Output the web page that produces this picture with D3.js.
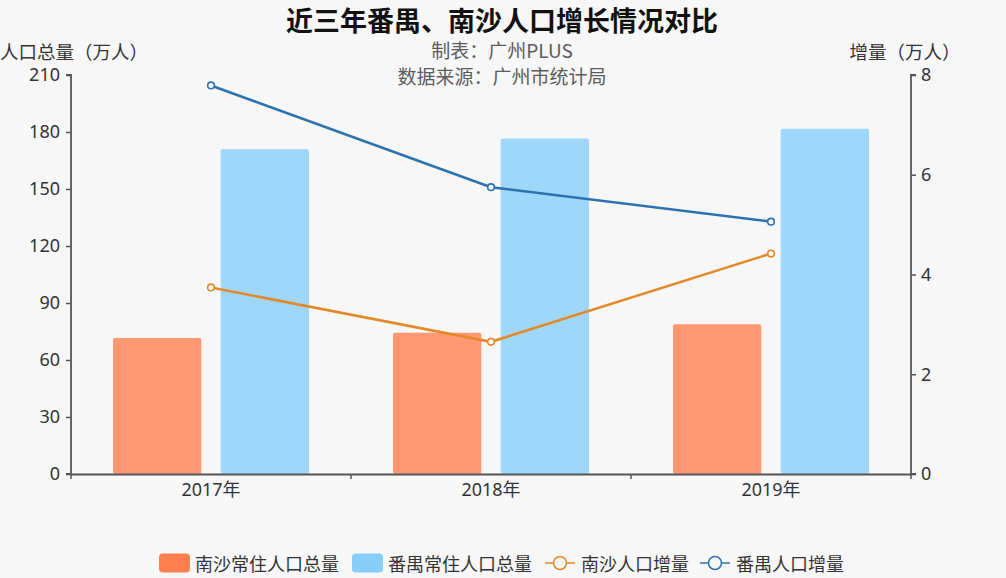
<!DOCTYPE html>
<html><head><meta charset="utf-8">
<script src="https://cdn.jsdelivr.net/npm/d3@7/dist/d3.min.js"></script>
<style>
html,body{margin:0;padding:0;background:#f7f7f7;}
svg{display:block;font-family:"Noto Sans CJK SC","Noto Sans",sans-serif;}
</style></head>
<body><svg id="c" width="1006" height="578"></svg>
<script>
const categories = ["2017年", "2018年", "2019年"];
const nanshaTotal = [71.6, 74.3, 78.8];
const panyuTotal = [170.9, 176.6, 181.7];
const nanshaInc = [3.74, 2.65, 4.42];
const panyuInc = [7.79, 5.75, 5.06];
const leftTicks = [0, 30, 60, 90, 120, 150, 180, 210];
const rightTicks = [0, 2, 4, 6, 8];
const seriesNames = ["南沙常住人口总量", "番禺常住人口总量", "南沙人口增量", "番禺人口增量"];

const svg = d3.select("#c");
const L = 71, R = 911, T = 75, B = 474;
const C = {barO:"#ff7f50", barB:"#87cefa", lineO:"#e3892a", lineB:"#2f71ae", axis:"#555", text:"#333"};

const x = d3.scaleBand().domain(categories).range([L, R]);
const bw = x.bandwidth();
const xi = d3.scaleBand().domain([0,1]).range([0.15*bw, 0.85*bw]).paddingInner(0.18);
const yL = d3.scaleLinear().domain([0, 210]).range([B, T]);
const yR = d3.scaleLinear().domain([0, 8]).range([B, T]);

// bars
[[nanshaTotal, C.barO, 0], [panyuTotal, C.barB, 1]].forEach(([vals, col, k]) => {
  svg.append("g").selectAll("rect").data(vals).join("rect")
    .attr("x", (d,i) => x(categories[i]) + xi(k))
    .attr("width", xi.bandwidth())
    .attr("y", d => yL(d))
    .attr("height", d => B - yL(d))
    .attr("rx", 2)
    .attr("fill", col).attr("fill-opacity", 0.8);
});

// axes
const axL = svg.append("g").attr("transform", `translate(${L},0)`)
  .call(d3.axisLeft(yL).tickValues(leftTicks).tickSize(5).tickPadding(6));
const axR = svg.append("g").attr("transform", `translate(${R},0)`)
  .call(d3.axisRight(yR).tickValues(rightTicks).tickSize(5).tickPadding(5));
const axX = svg.append("g").attr("transform", `translate(0,${B})`)
  .call(d3.axisBottom(x).tickSize(0).tickPadding(9));
svg.append("g").selectAll("line").data(d3.range(categories.length + 1)).join("line")
  .attr("x1", i => L + i * x.step()).attr("x2", i => L + i * x.step())
  .attr("y1", B).attr("y2", B + 5).attr("stroke", C.axis).attr("stroke-width", 1.5);
[axL, axR, axX].forEach(g => {
  g.selectAll(".domain").attr("stroke", C.axis).attr("stroke-width", 1.8);
  g.selectAll(".tick line").attr("stroke", C.axis).attr("stroke-width", 1.5);
  g.selectAll("text").attr("fill", C.text).style("font-size", "18px")
    .style("font-family", '"Noto Sans","Noto Sans CJK SC",sans-serif');
});
axL.select(".domain").attr("d", `M-5,${B}H0V${T}H-5`);
axR.select(".domain").attr("d", `M5,${B}H0V${T}H5`);

// lines
[[nanshaInc, C.lineO], [panyuInc, C.lineB]].forEach(([vals, col]) => {
  const pts = vals.map((d,i) => [x(categories[i]) + bw/2, yR(d)]);
  svg.append("path").attr("d", d3.line()(pts)).attr("fill", "none")
    .attr("stroke", col).attr("stroke-width", 2.6);
  svg.append("g").selectAll("circle").data(pts).join("circle")
    .attr("cx", d => d[0]).attr("cy", d => d[1]).attr("r", 3.3)
    .attr("fill", "#fff").attr("stroke", col).attr("stroke-width", 1.6);
});

// titles
svg.append("text").attr("x", 502).attr("y", 19).attr("text-anchor", "middle")
  .attr("dominant-baseline", "central").style("font-size", "27px").style("font-weight", "bold")
  .attr("fill", "#111").text("近三年番禺、南沙人口增长情况对比");
svg.append("text").attr("x", 502).attr("y", 49.5).attr("text-anchor", "middle")
  .attr("dominant-baseline", "central").style("font-size", "19px").attr("fill", "#5c5c5c").text("制表：广州PLUS");
svg.append("text").attr("x", 502).attr("y", 75.5).attr("text-anchor", "middle")
  .attr("dominant-baseline", "central").style("font-size", "19px").attr("fill", "#5c5c5c").text("数据来源：广州市统计局");
svg.append("text").attr("x", 0).attr("y", 51).attr("dominant-baseline", "central")
  .style("font-size", "18.5px").attr("fill", C.text).text("人口总量（万人）");
svg.append("text").attr("x", 905).attr("y", 51).attr("text-anchor", "middle").attr("dominant-baseline", "central")
  .style("font-size", "18.5px").attr("fill", C.text).text("增量（万人）");

// legend
const lg = svg.append("g");
const items = [
  {name: seriesNames[0], type: "bar", col: C.barO, x: 159},
  {name: seriesNames[1], type: "bar", col: C.barB, x: 352},
  {name: seriesNames[2], type: "line", col: C.lineO, x: 545},
  {name: seriesNames[3], type: "line", col: C.lineB, x: 700}
];
const ly = 563;
items.forEach(it => {
  if (it.type === "bar") {
    lg.append("rect").attr("x", it.x).attr("y", ly - 9.5).attr("width", 31).attr("height", 19)
      .attr("rx", 4).attr("fill", it.col);
  } else {
    lg.append("line").attr("x1", it.x).attr("x2", it.x + 30).attr("y1", ly).attr("y2", ly)
      .attr("stroke", it.col).attr("stroke-width", 1.5);
    lg.append("circle").attr("cx", it.x + 15).attr("cy", ly).attr("r", 6.5)
      .attr("fill", "#f7f7f7").attr("stroke", it.col).attr("stroke-width", 1.5);
  }
  lg.append("text").attr("x", it.x + 36).attr("y", ly).attr("dominant-baseline", "central")
    .style("font-size", "18px").attr("fill", C.text).text(it.name);
});
</script></body></html>
